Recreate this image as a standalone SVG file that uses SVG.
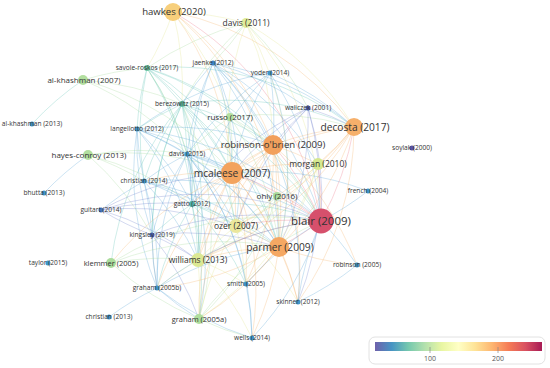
<svg xmlns="http://www.w3.org/2000/svg" width="550" height="368" viewBox="0 0 550 368">
<defs>
<style>
#edges path{fill:none;stroke-width:0.85;stroke-opacity:0.36}
.b{stroke:#5aa6d8}.t{stroke:#5fc3b6}.g{stroke:#a5da9c}.y{stroke:#e0e58a}.o{stroke:#f6b26b}.r{stroke:#ec7284}.p{stroke:#6f80cc}
text{font-family:"Open Sans","Liberation Sans",Arial,sans-serif;fill:#333;text-anchor:middle}
.f1{font-size:11.5px}.f2{font-size:10.2px}.f3{font-size:9.6px}.f4{font-size:8.5px}.f5{font-size:8px}.f6{font-size:7.5px}.f7{font-size:6.6px}
.sb{fill:#3f95c8}.sd{fill:#4a62b2}
.leg{font-size:7px;fill:#555}
</style>
<linearGradient id="sp" x1="0" y1="0" x2="1" y2="0">
<stop offset="0" stop-color="#5e4fa2"/><stop offset="0.1" stop-color="#3288bd"/><stop offset="0.2" stop-color="#66c2a5"/><stop offset="0.3" stop-color="#abdda4"/><stop offset="0.4" stop-color="#e6f598"/><stop offset="0.5" stop-color="#ffffbf"/><stop offset="0.6" stop-color="#fee08b"/><stop offset="0.7" stop-color="#fdae61"/><stop offset="0.8" stop-color="#f46d43"/><stop offset="0.9" stop-color="#d53e4f"/><stop offset="1" stop-color="#9e0142"/>
</linearGradient>
</defs>
<rect width="550" height="368" fill="#fff"/>
<g id="edges">
<path class="y" d="M173 12A300 300 0 0 1 147 68"/>
<path class="y" d="M173 12A300 300 0 0 1 182 104"/>
<path class="o" d="M173 12A300 300 0 0 1 273 145"/>
<path class="o" d="M173 12A300 300 0 0 1 232 173"/>
<path class="o" d="M173 12A300 300 0 0 1 354 127"/>
<path class="o" d="M173 12A300 300 0 0 1 279 247"/>
<path class="r" d="M173 12A300 300 0 0 1 321 221"/>
<path class="y" d="M173 12A300 300 0 0 1 230 117"/>
<path class="y" d="M173 12A300 300 0 0 1 246 23"/>
<path class="g" d="M246 23A300 300 0 0 1 213 63"/>
<path class="y" d="M246 23A300 300 0 0 1 273 145"/>
<path class="y" d="M246 23A300 300 0 0 0 232 173"/>
<path class="y" d="M246 23A300 300 0 0 1 354 127"/>
<path class="y" d="M246 23A300 300 0 0 1 321 221"/>
<path class="y" d="M246 23A300 300 0 0 1 279 247"/>
<path class="g" d="M246 23A300 300 0 0 0 182 104"/>
<path class="g" d="M246 23A300 300 0 0 0 147 68"/>
<path class="g" d="M246 23A300 300 0 0 1 308 108"/>
<path class="t" d="M147 68A300 300 0 0 1 182 104"/>
<path class="t" d="M147 68A300 300 0 0 1 187 154"/>
<path class="t" d="M147 68A300 300 0 0 0 137 129"/>
<path class="t" d="M147 68A300 300 0 0 1 232 173"/>
<path class="t" d="M147 68A300 300 0 0 1 273 145"/>
<path class="t" d="M147 68A300 300 0 0 1 321 221"/>
<path class="t" d="M147 68A300 300 0 0 0 144 181"/>
<path class="t" d="M147 68A300 300 0 0 1 354 127"/>
<path class="t" d="M147 68A300 300 0 0 1 279 247"/>
<path class="g" d="M147 68A300 300 0 0 0 83 80"/>
<path class="t" d="M147 68A300 300 0 0 1 192 204"/>
<path class="g" d="M147 68A300 300 0 0 1 198 260"/>
<path class="b" d="M213 63A300 300 0 0 1 321 221"/>
<path class="b" d="M213 63A300 300 0 0 1 279 247"/>
<path class="b" d="M213 63A300 300 0 0 1 232 173"/>
<path class="b" d="M213 63A300 300 0 0 1 273 145"/>
<path class="b" d="M213 63A300 300 0 0 0 187 154"/>
<path class="b" d="M213 63A300 300 0 0 0 192 204"/>
<path class="b" d="M213 63A300 300 0 0 1 308 108"/>
<path class="b" d="M213 63A300 300 0 0 1 236 226"/>
<path class="b" d="M213 63A300 300 0 0 1 354 127"/>
<path class="b" d="M213 63A300 300 0 0 0 182 104"/>
<path class="b" d="M213 63A300 300 0 0 1 298 302"/>
<path class="b" d="M213 63A300 300 0 0 1 318 164"/>
<path class="t" d="M83 80A300 300 0 0 0 32 124"/>
<path class="g" d="M83 80A300 300 0 0 1 182 104"/>
<path class="g" d="M83 80A300 300 0 0 1 187 154"/>
<path class="g" d="M83 80A300 300 0 0 1 232 173"/>
<path class="b" d="M270 73A300 300 0 0 0 232 173"/>
<path class="b" d="M270 73A300 300 0 0 1 273 145"/>
<path class="b" d="M270 73A300 300 0 0 1 279 247"/>
<path class="b" d="M270 73A300 300 0 0 1 321 221"/>
<path class="b" d="M270 73A300 300 0 0 0 187 154"/>
<path class="b" d="M270 73A300 300 0 0 0 192 204"/>
<path class="b" d="M270 73A300 300 0 0 0 137 129"/>
<path class="b" d="M270 73A300 300 0 0 1 354 127"/>
<path class="t" d="M182 104A300 300 0 0 1 187 154"/>
<path class="t" d="M182 104A300 300 0 0 0 137 129"/>
<path class="t" d="M182 104A300 300 0 0 1 232 173"/>
<path class="t" d="M182 104A300 300 0 0 1 273 145"/>
<path class="t" d="M182 104A300 300 0 0 0 144 181"/>
<path class="t" d="M182 104A300 300 0 0 1 192 204"/>
<path class="t" d="M182 104A300 300 0 0 1 279 247"/>
<path class="t" d="M182 104A300 300 0 0 1 321 221"/>
<path class="t" d="M182 104A300 300 0 0 1 354 127"/>
<path class="t" d="M182 104A300 300 0 0 1 236 226"/>
<path class="t" d="M182 104A300 300 0 0 1 198 260"/>
<path class="t" d="M182 104A300 300 0 0 0 111 263"/>
<path class="t" d="M182 104A300 300 0 0 0 157 288"/>
<path class="t" d="M182 104A300 300 0 0 0 152 235"/>
<path class="g" d="M182 104A300 300 0 0 1 199 319"/>
<path class="g" d="M230 117A300 300 0 0 1 232 173"/>
<path class="g" d="M230 117A300 300 0 0 1 273 145"/>
<path class="g" d="M230 117A300 300 0 0 1 279 247"/>
<path class="g" d="M230 117A300 300 0 0 1 321 221"/>
<path class="g" d="M230 117A300 300 0 0 0 236 226"/>
<path class="g" d="M230 117A300 300 0 0 0 187 154"/>
<path class="g" d="M230 117A300 300 0 0 1 354 127"/>
<path class="b" d="M137 129A300 300 0 0 1 187 154"/>
<path class="b" d="M137 129A300 300 0 0 0 144 181"/>
<path class="b" d="M137 129A300 300 0 0 1 232 173"/>
<path class="b" d="M137 129A300 300 0 0 1 192 204"/>
<path class="b" d="M137 129A300 300 0 0 0 157 288"/>
<path class="b" d="M137 129A300 300 0 0 1 279 247"/>
<path class="b" d="M137 129A300 300 0 0 1 321 221"/>
<path class="b" d="M137 129A300 300 0 0 1 273 145"/>
<path class="b" d="M137 129A300 300 0 0 0 152 235"/>
<path class="b" d="M137 129A300 300 0 0 1 198 260"/>
<path class="o" d="M273 145A300 300 0 0 0 232 173"/>
<path class="r" d="M273 145A300 300 0 0 1 321 221"/>
<path class="o" d="M273 145A300 300 0 0 1 279 247"/>
<path class="o" d="M273 145A300 300 0 0 1 354 127"/>
<path class="o" d="M273 145A300 300 0 0 0 236 226"/>
<path class="o" d="M273 145A300 300 0 0 1 318 164"/>
<path class="o" d="M273 145A300 300 0 0 1 277 196"/>
<path class="o" d="M273 145A300 300 0 0 0 198 260"/>
<path class="o" d="M273 145A300 300 0 0 0 199 319"/>
<path class="o" d="M273 145A300 300 0 0 1 298 302"/>
<path class="o" d="M273 145A300 300 0 0 0 187 154"/>
<path class="o" d="M273 145A300 300 0 0 0 192 204"/>
<path class="o" d="M273 145A300 300 0 0 1 246 284"/>
<path class="o" d="M273 145A300 300 0 0 1 357 265"/>
<path class="b" d="M88 155A300 300 0 0 0 44 193"/>
<path class="g" d="M88 155A300 300 0 0 1 144 181"/>
<path class="g" d="M88 155A300 300 0 0 1 187 154"/>
<path class="g" d="M88 155A300 300 0 0 1 192 204"/>
<path class="g" d="M88 155A300 300 0 0 1 232 173"/>
<path class="g" d="M88 155A300 300 0 0 1 152 235"/>
<path class="b" d="M187 154A300 300 0 0 1 232 173"/>
<path class="b" d="M187 154A300 300 0 0 0 144 181"/>
<path class="b" d="M187 154A300 300 0 0 1 192 204"/>
<path class="b" d="M187 154A300 300 0 0 1 279 247"/>
<path class="b" d="M187 154A300 300 0 0 1 321 221"/>
<path class="b" d="M187 154A300 300 0 0 0 157 288"/>
<path class="b" d="M187 154A300 300 0 0 0 152 235"/>
<path class="b" d="M187 154A300 300 0 0 1 198 260"/>
<path class="b" d="M187 154A300 300 0 0 1 199 319"/>
<path class="b" d="M187 154A300 300 0 0 1 236 226"/>
<path class="b" d="M187 154A300 300 0 0 1 277 196"/>
<path class="b" d="M187 154A300 300 0 0 1 246 284"/>
<path class="b" d="M187 154A300 300 0 0 1 252 338"/>
<path class="r" d="M232 173A300 300 0 0 1 321 221"/>
<path class="o" d="M232 173A300 300 0 0 1 279 247"/>
<path class="o" d="M232 173A300 300 0 0 1 354 127"/>
<path class="o" d="M232 173A300 300 0 0 1 236 226"/>
<path class="o" d="M232 173A300 300 0 0 1 277 196"/>
<path class="o" d="M232 173A300 300 0 0 1 318 164"/>
<path class="o" d="M232 173A300 300 0 0 0 198 260"/>
<path class="o" d="M232 173A300 300 0 0 0 192 204"/>
<path class="o" d="M232 173A300 300 0 0 0 144 181"/>
<path class="o" d="M232 173A300 300 0 0 0 199 319"/>
<path class="o" d="M232 173A300 300 0 0 1 298 302"/>
<path class="o" d="M232 173A300 300 0 0 1 246 284"/>
<path class="o" d="M232 173A300 300 0 0 0 111 263"/>
<path class="b" d="M368 191A300 300 0 0 0 232 173"/>
<path class="o" d="M232 173A300 300 0 0 1 252 338"/>
<path class="o" d="M232 173A300 300 0 0 0 157 288"/>
<path class="b" d="M144 181A300 300 0 0 1 192 204"/>
<path class="b" d="M144 181A300 300 0 0 1 157 288"/>
<path class="b" d="M144 181A300 300 0 0 1 152 235"/>
<path class="b" d="M144 181A300 300 0 0 1 279 247"/>
<path class="b" d="M144 181A300 300 0 0 1 321 221"/>
<path class="b" d="M144 181A300 300 0 0 0 101 210"/>
<path class="b" d="M144 181A300 300 0 0 1 198 260"/>
<path class="b" d="M144 181A300 300 0 0 1 236 226"/>
<path class="p" d="M308 108A300 300 0 0 1 321 221"/>
<path class="p" d="M308 108A300 300 0 0 1 279 247"/>
<path class="p" d="M308 108A300 300 0 0 0 232 173"/>
<path class="p" d="M308 108A300 300 0 0 0 273 145"/>
<path class="p" d="M308 108A300 300 0 0 0 236 226"/>
<path class="p" d="M308 108A300 300 0 0 1 354 127"/>
<path class="p" d="M308 108A300 300 0 0 1 298 302"/>
<path class="p" d="M308 108A300 300 0 0 0 192 204"/>
<path class="r" d="M354 127A300 300 0 0 1 321 221"/>
<path class="o" d="M354 127A300 300 0 0 1 279 247"/>
<path class="o" d="M354 127A300 300 0 0 1 318 164"/>
<path class="o" d="M354 127A300 300 0 0 1 236 226"/>
<path class="o" d="M354 127A300 300 0 0 1 277 196"/>
<path class="o" d="M354 127A300 300 0 0 1 198 260"/>
<path class="o" d="M354 127A300 300 0 0 1 298 302"/>
<path class="r" d="M318 164A300 300 0 0 1 321 221"/>
<path class="y" d="M318 164A300 300 0 0 1 279 247"/>
<path class="y" d="M318 164A300 300 0 0 1 236 226"/>
<path class="y" d="M318 164A300 300 0 0 1 198 260"/>
<path class="y" d="M318 164A300 300 0 0 1 199 319"/>
<path class="p" d="M101 210A300 300 0 0 1 192 204"/>
<path class="p" d="M101 210A300 300 0 0 1 321 221"/>
<path class="p" d="M101 210A300 300 0 0 1 279 247"/>
<path class="p" d="M101 210A300 300 0 0 0 152 235"/>
<path class="p" d="M101 210A300 300 0 0 1 232 173"/>
<path class="p" d="M101 210A300 300 0 0 1 198 260"/>
<path class="t" d="M192 204A300 300 0 0 1 279 247"/>
<path class="t" d="M192 204A300 300 0 0 1 321 221"/>
<path class="t" d="M192 204A300 300 0 0 1 236 226"/>
<path class="t" d="M192 204A300 300 0 0 1 198 260"/>
<path class="t" d="M192 204A300 300 0 0 0 157 288"/>
<path class="t" d="M192 204A300 300 0 0 1 246 284"/>
<path class="t" d="M192 204A300 300 0 0 0 152 235"/>
<path class="t" d="M192 204A300 300 0 0 1 199 319"/>
<path class="r" d="M277 196A300 300 0 0 1 321 221"/>
<path class="g" d="M277 196A300 300 0 0 1 279 247"/>
<path class="g" d="M277 196A300 300 0 0 1 198 260"/>
<path class="g" d="M277 196A300 300 0 0 0 236 226"/>
<path class="g" d="M277 196A300 300 0 0 1 199 319"/>
<path class="r" d="M236 226A300 300 0 0 1 321 221"/>
<path class="y" d="M236 226A300 300 0 0 1 279 247"/>
<path class="y" d="M236 226A300 300 0 0 0 198 260"/>
<path class="y" d="M236 226A300 300 0 0 0 199 319"/>
<path class="y" d="M236 226A300 300 0 0 1 246 284"/>
<path class="y" d="M236 226A300 300 0 0 1 298 302"/>
<path class="r" d="M279 247A300 300 0 0 0 321 221"/>
<path class="o" d="M279 247A300 300 0 0 0 198 260"/>
<path class="o" d="M279 247A300 300 0 0 1 298 302"/>
<path class="o" d="M279 247A300 300 0 0 1 246 284"/>
<path class="o" d="M279 247A300 300 0 0 0 357 265"/>
<path class="o" d="M279 247A300 300 0 0 1 199 319"/>
<path class="o" d="M279 247A300 300 0 0 1 252 338"/>
<path class="o" d="M279 247A300 300 0 0 1 157 288"/>
<path class="p" d="M152 235A300 300 0 0 1 321 221"/>
<path class="p" d="M152 235A300 300 0 0 1 279 247"/>
<path class="p" d="M152 235A300 300 0 0 0 157 288"/>
<path class="p" d="M152 235A300 300 0 0 1 198 260"/>
<path class="p" d="M152 235A300 300 0 0 1 199 319"/>
<path class="g" d="M111 263A300 300 0 0 1 198 260"/>
<path class="g" d="M111 263A300 300 0 0 1 321 221"/>
<path class="g" d="M111 263A300 300 0 0 1 279 247"/>
<path class="g" d="M111 263A300 300 0 0 0 199 319"/>
<path class="r" d="M198 260A300 300 0 0 1 321 221"/>
<path class="y" d="M198 260A300 300 0 0 1 199 319"/>
<path class="y" d="M198 260A300 300 0 0 0 157 288"/>
<path class="y" d="M198 260A300 300 0 0 1 252 338"/>
<path class="y" d="M198 260A300 300 0 0 1 246 284"/>
<path class="b" d="M157 288A300 300 0 0 0 109 317"/>
<path class="b" d="M157 288A300 300 0 0 0 252 338"/>
<path class="b" d="M157 288A300 300 0 0 1 279 247"/>
<path class="b" d="M157 288A300 300 0 0 1 321 221"/>
<path class="b" d="M157 288A300 300 0 0 0 199 319"/>
<path class="b" d="M246 284A300 300 0 0 1 321 221"/>
<path class="b" d="M246 284A300 300 0 0 1 252 338"/>
<path class="g" d="M199 319A300 300 0 0 1 321 221"/>
<path class="g" d="M199 319A300 300 0 0 0 252 338"/>
<path class="b" d="M252 338A300 300 0 0 0 321 221"/>
<path class="b" d="M368 191A300 300 0 0 1 321 221"/>
<path class="b" d="M321 221A300 300 0 0 1 357 265"/>
<path class="b" d="M321 221A300 300 0 0 0 298 302"/>
<path class="b" d="M357 265A300 300 0 0 1 298 302"/>
</g>
<g id="n-taylor"><circle class="sb" cx="48" cy="263" r="2.5"/><text class="f7" x="48" y="263" dy="0.35em">taylor (2015)</text></g>
<g id="n-soylak"><circle cx="412" cy="148" r="2.5" fill="#5b53a5"/><text class="f7" x="412" y="148" dy="0.35em">soylak (2000)</text></g>
<g id="n-al-khashman-2013"><circle class="sb" cx="32" cy="124" r="2.5"/><text class="f7" x="32" y="124" dy="0.35em">al-khashman (2013)</text></g>
<g id="n-bhutta"><circle class="sb" cx="44" cy="193" r="2.5"/><text class="f7" x="44" y="193" dy="0.35em">bhutta (2013)</text></g>
<g id="n-guitart"><circle cx="101" cy="210" r="2.5" fill="#4574ba"/><text class="f7" x="101" y="210" dy="0.35em">guitart (2014)</text></g>
<g id="n-kingsley"><circle class="sd" cx="152" cy="235" r="2.5"/><text class="f7" x="152" y="235" dy="0.35em">kingsley (2019)</text></g>
<g id="n-christian-2013"><circle class="sb" cx="109" cy="317" r="2.5"/><text class="f7" x="109" y="317" dy="0.35em">christian (2013)</text></g>
<g id="n-graham-2005b"><circle class="sb" cx="157" cy="288" r="2.5"/><text class="f7" x="157" y="288" dy="0.35em">graham (2005b)</text></g>
<g id="n-smith"><circle class="sb" cx="246" cy="284" r="2.5"/><text class="f7" x="246" y="284" dy="0.35em">smith (2005)</text></g>
<g id="n-wells"><circle class="sb" cx="252" cy="338" r="2.5"/><text class="f7" x="252" y="338" dy="0.35em">wells (2014)</text></g>
<g id="n-skinner"><circle class="sb" cx="298" cy="302" r="2.5"/><text class="f7" x="298" y="302" dy="0.35em">skinner (2012)</text></g>
<g id="n-robinson-2005"><circle class="sb" cx="357" cy="265" r="2.5"/><text class="f7" x="357" y="265" dy="0.35em">robinson (2005)</text></g>
<g id="n-french"><circle class="sb" cx="368" cy="191" r="2.5"/><text class="f7" x="368" y="191" dy="0.35em">french (2004)</text></g>
<g id="n-waliczek"><circle cx="308" cy="108" r="2.5" fill="#4d5aad"/><text class="f7" x="308" y="108" dy="0.35em">waliczek (2001)</text></g>
<g id="n-yoder"><circle class="sb" cx="270" cy="73" r="2.5"/><text class="f7" x="270" y="73" dy="0.35em">yoder (2014)</text></g>
<g id="n-jaenke"><circle cx="213" cy="63" r="2.5" fill="#3b82c4"/><text class="f7" x="213" y="63" dy="0.35em">jaenke (2012)</text></g>
<g id="n-langellotto"><circle class="sb" cx="137" cy="129" r="2.5"/><text class="f7" x="137" y="129" dy="0.35em">langellotto (2012)</text></g>
<g id="n-davis-2015"><circle class="sb" cx="187" cy="154" r="2.5"/><text class="f7" x="187" y="154" dy="0.35em">davis (2015)</text></g>
<g id="n-christian-2014"><circle class="sb" cx="144" cy="181" r="2.5"/><text class="f7" x="144" y="181" dy="0.35em">christian (2014)</text></g>
<g id="n-gatto"><circle cx="192" cy="204" r="3" fill="#4fb1aa"/><text class="f7" x="192" y="204" dy="0.35em">gatto (2012)</text></g>
<g id="n-savoie-roskos"><circle cx="147" cy="68" r="3" fill="#6cc5a3"/><text class="f7" x="147" y="68" dy="0.35em">savoie-roskos (2017)</text></g>
<g id="n-berezowitz"><circle cx="182" cy="104" r="3" fill="#63c1a4"/><text class="f7" x="182" y="104" dy="0.35em">berezowitz (2015)</text></g>
<g id="n-russo"><circle cx="230" cy="117" r="4" fill="#b4df9f"/><text class="f5" x="230" y="117" dy="0.35em">russo (2017)</text></g>
<g id="n-ohly"><circle cx="277" cy="196" r="4" fill="#a9dc9e"/><text class="f5" x="277" y="196" dy="0.35em">ohly (2016)</text></g>
<g id="n-al-khashman-2007"><circle cx="83" cy="80" r="5" fill="#b3dfa0"/><text class="f5" x="84" y="80" dy="0.35em">al-khashman (2007)</text></g>
<g id="n-hayes-conroy"><circle cx="88" cy="155" r="5" fill="#b2df9f"/><text class="f5" x="89" y="155" dy="0.35em">hayes-conroy (2013)</text></g>
<g id="n-klemmer"><circle cx="111" cy="263" r="5" fill="#abdc9c"/><text class="f6" x="111" y="263" dy="0.35em">klemmer (2005)</text></g>
<g id="n-graham-2005a"><circle cx="199" cy="319" r="5" fill="#b0de9d"/><text class="f6" x="199" y="319" dy="0.35em">graham (2005a)</text></g>
<g id="n-davis-2011"><circle cx="246" cy="23" r="5" fill="#e0ec9a"/><text class="f4" x="246" y="23" dy="0.35em">davis (2011)</text></g>
<g id="n-morgan"><circle cx="318" cy="164" r="6" fill="#d5e88f"/><text class="f4" x="318" y="164" dy="0.35em">morgan (2010)</text></g>
<g id="n-williams"><circle cx="198" cy="260" r="7" fill="#dbe894"/><text class="f4" x="198" y="260" dy="0.35em">williams (2013)</text></g>
<g id="n-ozer"><circle cx="236" cy="226" r="7" fill="#ebe79c"/><text class="f4" x="236" y="226" dy="0.35em">ozer (2007)</text></g>
<g id="n-hawkes"><circle cx="173" cy="12" r="9" fill="#f7cf7c"/><text class="f3" x="174" y="12" dy="0.35em">hawkes (2020)</text></g>
<g id="n-decosta"><circle cx="354" cy="127" r="9" fill="#f6b06b"/><text class="f2" x="355" y="127" dy="0.35em">decosta (2017)</text></g>
<g id="n-robinson-obrien"><circle cx="273" cy="145" r="10" fill="#f2a05c"/><text class="f3" x="273" y="145" dy="0.35em">robinson-o'brien (2009)</text></g>
<g id="n-mcaleese"><circle cx="232" cy="173" r="11" fill="#f3a35e"/><text class="f2" x="232" y="173" dy="0.35em">mcaleese (2007)</text></g>
<g id="n-parmer"><circle cx="279" cy="247" r="10" fill="#f5a863"/><text class="f2" x="280" y="247" dy="0.35em">parmer (2009)</text></g>
<g id="n-blair"><circle cx="321" cy="221" r="12.5" fill="#d6506c"/><text class="f1" x="321" y="221" dy="0.35em">blair (2009)</text></g>
<g id="legend">
<rect x="369" y="337" width="176" height="27" rx="6" fill="#fff" stroke="#e2e2e2"/>
<rect x="375" y="342" width="167" height="9" fill="url(#sp)" opacity="0.9"/>
<line x1="430" y1="347" x2="430" y2="353" stroke="#888" stroke-width="0.7"/>
<line x1="498" y1="347" x2="498" y2="353" stroke="#888" stroke-width="0.7"/>
<text class="leg" x="430" y="361">100</text>
<text class="leg" x="498" y="361">200</text>
</g>
</svg>
